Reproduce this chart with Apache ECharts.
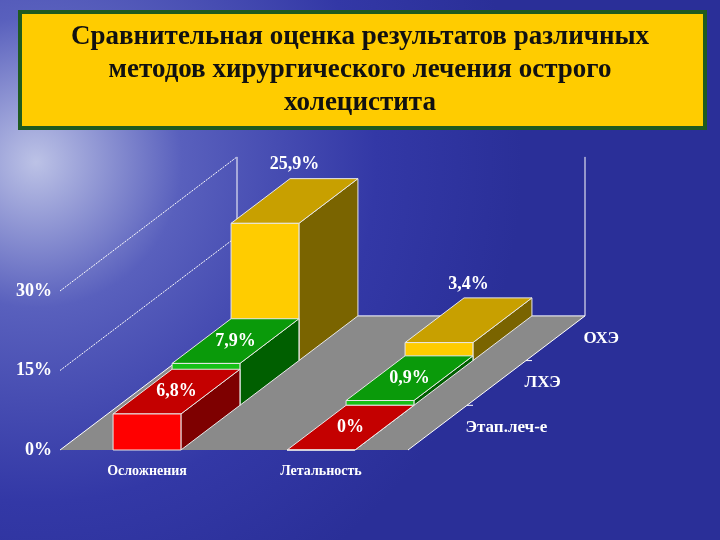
<!DOCTYPE html>
<html>
<head>
<meta charset="utf-8">
<script src="https://cdn.jsdelivr.net/npm/echarts@6/dist/echarts.min.js"></script>
<style>html,body{margin:0;padding:0}#main{width:720px;height:540px}</style>
</head>
<body>
<div id="main"></div>
<script>
// данные
var categories = ['Осложнения', 'Летальность'];
var rowNames = ['Этап.леч-е', 'ЛХЭ', 'ОХЭ'];   // от переднего ряда к заднему
var etapValues = [6.8, 0];
var lhaValues = [7.9, 0.9];
var ohaValues = [25.9, 3.4];
var yTicks = [0, 15, 30];

var rowValues = [etapValues, lhaValues, ohaValues];
var rowColors = [
    {front: '#ff0000', top: '#c40000', side: '#7e0000'},
    {front: '#16c016', top: '#0a9a0a', side: '#005f00'},
    {front: '#ffcc00', top: '#c8a000', side: '#7a6400'}
];
var DX = 59, DY = -44.7;   // глубина одного ряда
var serif = '"Liberation Serif", "DejaVu Serif", serif';

var chart = echarts.init(document.getElementById('main'));

function fmt(v) { return String(v).replace('.', ',') + '%'; }

// пол и стенки
function renderFloor(params, api) {
    var n = rowNames.length;
    var fl = api.coord([0, 0]);
    var bw = api.size([1, 0])[0];
    var x0 = fl[0] - bw / 2, x1 = x0 + bw * categories.length, y0 = fl[1];
    var bx = n * DX, by = n * DY;
    var top = api.coord([0, yTicks[yTicks.length - 1]])[1];
    var line = {stroke: '#ffffff', lineWidth: 1};
    var ch = [{
        type: 'polygon',
        shape: {points: [[x0, y0], [x1, y0], [x1 + bx, y0 + by], [x0 + bx, y0 + by]]},
        style: {fill: '#8a8a8a'}
    }];
    ch.push({type: 'line', shape: {x1: x0 + bx, y1: y0 + by, x2: x0 + bx, y2: top + by}, style: line});
    ch.push({type: 'line', shape: {x1: x1 + bx, y1: y0 + by, x2: x1 + bx, y2: top + by}, style: line});
    ch.push({type: 'line', shape: {x1: x0 + bx, y1: y0 + by, x2: x1 + bx, y2: y0 + by}, style: line});
    yTicks.forEach(function (t) {
        var y = api.coord([0, t])[1];
        ch.push({type: 'line', shape: {x1: x0, y1: y, x2: x0 + bx, y2: y + by},
            style: {stroke: '#ffffff', lineWidth: 1, lineDash: t === 0 ? null : [2, 1]}});
    });
    ch.push({type: 'line', shape: {x1: x1, y1: y0, x2: x1 + bx, y2: y0 + by}, style: line});
    rowNames.forEach(function (name, r) {
        var px = x1 + (r + 0.5) * DX, py = y0 + (r + 0.5) * DY;
        ch.push({type: 'text', style: {x: px + 28, y: py, text: name, fill: '#ffffff',
            font: 'bold 17px ' + serif, verticalAlign: 'middle'}});
        if (r > 0) {
            var tx = x1 + r * DX, ty = y0 + r * DY;
            ch.push({type: 'line', shape: {x1: tx, y1: ty, x2: tx + 6, y2: ty}, style: line});
        }
    });
    return {type: 'group', children: ch};
}

// псевдо-3D столбики
function makeRender(r) {
    return function (params, api) {
        var cat = api.value(0), val = api.value(1);
        var b = api.coord([cat, 0]), t = api.coord([cat, val]);
        var w = api.size([1, 0])[0] * 0.39;
        var ox = r * DX, oy = r * DY;
        var xl = b[0] - w / 2 + ox, xr = xl + w, yb = b[1] + oy, yt = t[1] + oy;
        var c = rowColors[r];
        var edge = {stroke: '#e8e8e8', lineWidth: 1};
        var label = fmt(val);
        var lx, ly;
        if (r === 2) { lx = xl + DX / 2 + w / 2; ly = yt + DY - 14; }
        else { lx = (xl + xr) / 2 + DX / 2; ly = yt + DY / 2; }
        return {type: 'group', children: [
            {type: 'polygon', shape: {points: [[xr, yb], [xr + DX, yb + DY], [xr + DX, yt + DY], [xr, yt]]},
                style: Object.assign({fill: c.side}, edge)},
            {type: 'polygon', shape: {points: [[xl, yt], [xr, yt], [xr + DX, yt + DY], [xl + DX, yt + DY]]},
                style: Object.assign({fill: c.top}, edge)},
            {type: 'rect', shape: {x: xl, y: yt, width: w, height: Math.max(yb - yt, 0)},
                style: Object.assign({fill: c.front}, edge)},
            {type: 'text', style: {x: lx, y: ly, text: label, fill: '#ffffff',
                font: 'bold 18px ' + serif, align: 'center', verticalAlign: 'middle'}}
        ]};
    };
}

var series = [{
    type: 'custom', renderItem: renderFloor, data: [[0, 0]], z: 1, silent: true, clip: false
}];
// задние ряды рисуются первыми
for (var r = rowNames.length - 1; r >= 0; r--) {
    series.push({
        type: 'custom', name: rowNames[r], renderItem: makeRender(r), clip: false,
        z: 10 - r,
        data: rowValues[r].map(function (v, i) { return [i, v]; })
    });
}

chart.setOption({
    backgroundColor: new echarts.graphic.RadialGradient(0.05, 0.3, 0.9, [
        {offset: 0, color: '#bcc2e6'},
        {offset: 0.3, color: '#5960bd'},
        {offset: 0.7, color: '#3338a6'},
        {offset: 1, color: '#2a2f98'}
    ]),
    graphic: [{
        type: 'rect', left: 18, top: 10, shape: {width: 685, height: 116}, z: -1,
        style: {fill: '#ffcc00', stroke: '#1f5a1f', lineWidth: 4}
    }, {
        type: 'text', x: 360, y: 21, z: 0,
        style: {
            text: 'Сравнительная оценка результатов различных\nметодов хирургического лечения острого\nхолецистита',
            font: 'bold 27px ' + serif, lineHeight: 33, fill: '#111111', align: 'center'
        }
    }],
    grid: {left: 60, right: 312, top: 291, bottom: 90},
    xAxis: {
        type: 'category', data: categories,
        axisLine: {show: false}, axisTick: {show: false},
        axisLabel: {color: '#ffffff', fontFamily: serif, fontWeight: 'bold', fontSize: 14, margin: 14}
    },
    yAxis: {
        type: 'value', min: 0, max: 30, interval: 15,
        splitLine: {show: false}, axisLine: {show: false},
        axisLabel: {color: '#ffffff', fontFamily: serif, fontWeight: 'bold', fontSize: 18,
            margin: 8, formatter: '{value}%'}
    },
    series: series
});
</script>
</body>
</html>
